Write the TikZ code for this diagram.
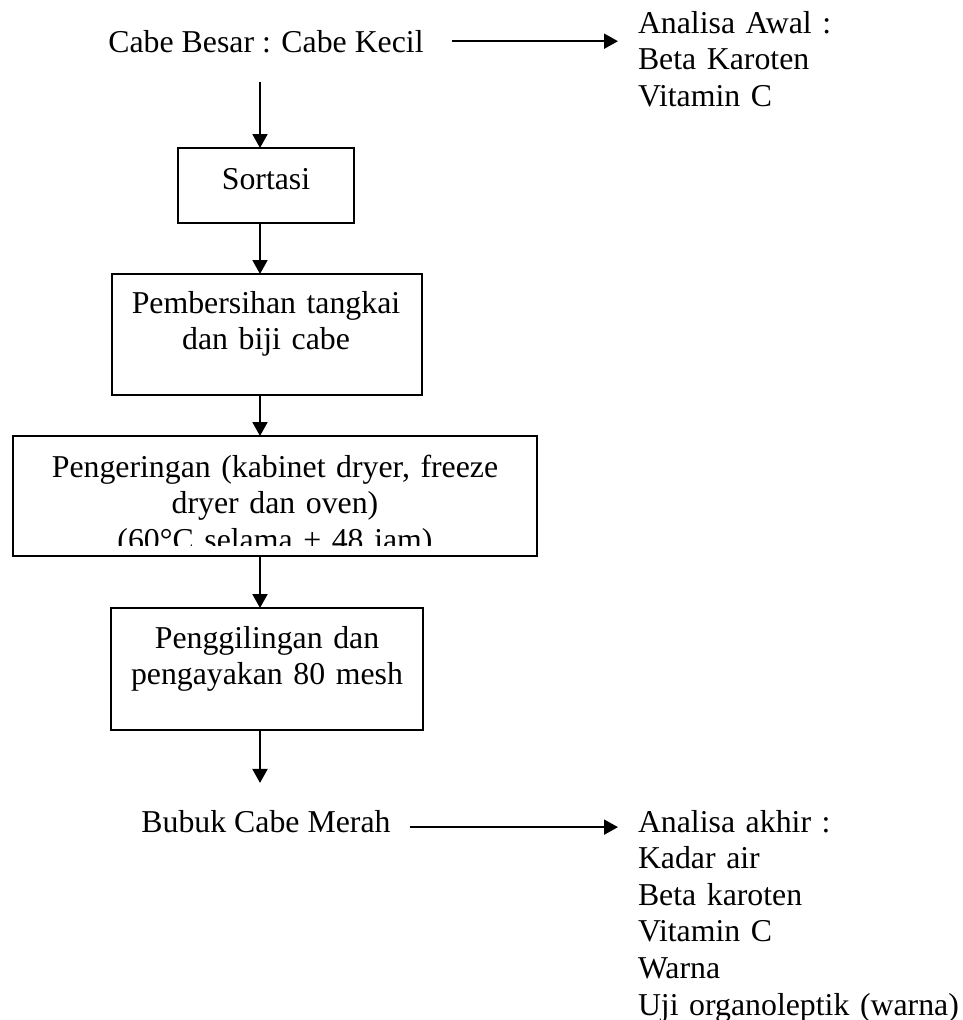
\documentclass[tikz,border=0pt]{standalone}
\usepackage{fontspec}
\setmainfont{Liberation Serif}
\usetikzlibrary{arrows.meta}
\begin{document}
\begin{tikzpicture}[x=1pt,y=-1pt,
  every node/.style={font=\fontsize{31.8pt}{36.6pt}\selectfont, inner sep=0pt, outer sep=0pt},
  box/.style={draw, line width=1.8pt, inner sep=0pt},
  txt/.style={align=center, anchor=base},
  arr/.style={line width=2pt, -{Triangle[width=15pt,length=14pt]}}]
\useasboundingbox (0,0) rectangle (963,1020);
\coordinate (col) at (260,0);
% texts outside boxes
\node[anchor=base] (cabe) at (266,52) {Cabe Besar : Cabe Kecil};
\node[anchor=base west, text width=320pt, align=left] (awal) at (638,33) {Analisa Awal :\\Beta Karoten\\Vitamin C};
\node[anchor=base] (bubuk) at (266,832) {Bubuk Cabe Merah};
\node[anchor=base west, text width=330pt, align=left] (akhir) at (638,832) {Analisa akhir :\\Kadar air\\Beta karoten\\Vitamin C\\Warna\\Uji organoleptik (warna)};
% boxes
\node[box, minimum width=176pt, minimum height=75pt] (sortasi) at (266,185.5) {};
\node[box, minimum width=310pt, minimum height=121pt] (pembersihan) at (267,334.5) {};
\node[box, minimum width=524pt, minimum height=120pt] (pengeringan) at (275,496) {};
\node[box, minimum width=312pt, minimum height=122pt] (penggilingan) at (267,669) {};
% box texts
\node[txt, text width=170pt] (t1) at (266,189) {Sortasi};
\node[txt, text width=305pt] (t2) at (266,313) {Pembersihan tangkai\\dan biji cabe};
\begin{scope}
\clip (14,437) rectangle (536,545);
\node[txt, text width=520pt] (t3) at (275,477) {Pengeringan (kabinet dryer, freeze\\dryer dan oven)\\(60°C selama + 48 jam)};
\end{scope}
\node[txt, text width=305pt] (t4) at (267,648) {Penggilingan dan\\pengayakan 80 mesh};
% connectors
\draw[arr, shorten <=30pt] (cabe.south -| col) -- (sortasi.north -| col);
\draw[arr] (sortasi.south -| col) -- (pembersihan.north -| col);
\draw[arr] (pembersihan.south -| col) -- (pengeringan.north -| col);
\draw[arr] (pengeringan.south -| col) -- (penggilingan.north -| col);
\draw[arr, shorten >=27pt] (penggilingan.south -| col) -- (bubuk.north -| col);
\draw[arr, shorten <=28pt, shorten >=20pt] (cabe.east) -- (cabe.east -| awal.west);
\draw[arr, shorten <=19pt, shorten >=20pt] ([yshift=-6pt]bubuk.east) -- ([yshift=-6pt]bubuk.east -| akhir.west);
\end{tikzpicture}
\end{document}
